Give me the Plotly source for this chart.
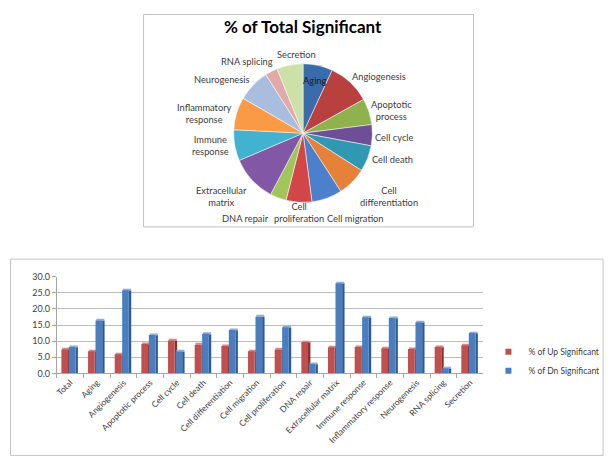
import plotly.graph_objects as go

# pie: share of all significant genes per category
pie_labels = ["Aging", "Angiogenesis", "Apoptotic process", "Cell cycle", "Cell death",
              "Cell differentiation", "Cell migration", "Cell proliferation", "DNA repair",
              "Extracellular matrix", "Immune response", "Inflammatory response",
              "Neurogenesis", "RNA splicing", "Secretion"]
pie_text = ["Aging", "Angiogenesis", "Apoptotic<br>process", "Cell cycle", "Cell death",
            "Cell<br>differentiation", "Cell migration", "Cell<br>proliferation", "DNA repair",
            "Extracellular<br>matrix", "Immune<br>response", "Inflammatory<br>response",
            "Neurogenesis", "RNA splicing", "Secretion"]
pie_values = [6.9, 10.0, 6.1, 4.9, 6.1, 6.8, 7.1, 6.0, 3.8, 10.8, 7.2, 7.6, 7.6, 2.9, 6.1]
pie_colors = ["#3A6BAA", "#B8403E", "#8FB24C", "#6E4F97", "#3198B3", "#E5823A",
              "#4C7FCC", "#D34648", "#A0C65A", "#8257A6", "#43B1D0", "#FB9A45",
              "#A9BEDF", "#E2A9A9", "#CDE0A8"]

# bars: up / down significant per category
categories = ["Total"] + pie_labels
up_sig = [7.5, 6.9, 5.9, 9.1, 10.2, 8.9, 8.5, 6.9, 7.4, 9.7, 8.1, 8.2, 7.8, 7.6, 8.2, 8.7]
dn_sig = [8.2, 16.4, 25.8, 11.9, 6.8, 12.3, 13.5, 17.6, 14.3, 2.9, 28.0, 17.4, 17.2, 15.9, 1.6, 12.5]

W, H = 615, 470
font = "Lato"
OFF = 8  # page body margin the figure sits in

UP_RED = "#C0504D"
DN_BLUE = "#4A7EBF"


def px(x):
    return (x - OFF) / W


def py(y):
    return 1 - (y - OFF) / H


# where the pie labels sit (page pixels), in pie_labels order
label_xy = [(314, 76), (378, 72), (391, 107), (394, 134), (392, 157), (388, 195),
            (355, 217), (298, 211), (244, 217), (220, 195), (209, 143), (203, 110),
            (221, 75), (246, 57), (295, 49)]

fig = go.Figure()

fig.add_trace(go.Pie(
    labels=pie_labels, values=pie_values, textinfo="none",
    sort=False, direction="clockwise", rotation=0,
    marker=dict(colors=pie_colors, line=dict(color="white", width=0.5)),
    domain=dict(x=[px(231), px(373)], y=[py(201), py(59)]),
    showlegend=False, hoverinfo="label+value",
))

n = len(categories)
# 3D-ish columns: side face, top face, front face
fig.add_trace(go.Bar(x=categories, y=up_sig, offset=-0.08, width=0.09,
                     marker=dict(color="#8C2F2C", line_width=0), showlegend=False, hoverinfo="skip"))
fig.add_trace(go.Bar(x=categories, y=[0.45] * n, base=up_sig, offset=-0.30, width=0.30,
                     marker=dict(color="#D98885", line_width=0), showlegend=False, hoverinfo="skip"))
fig.add_trace(go.Bar(x=categories, y=up_sig, offset=-0.33, width=0.25, name="% of Up Significant",
                     marker=dict(color=UP_RED, line_width=0), showlegend=False))
fig.add_trace(go.Bar(x=categories, y=dn_sig, offset=0.20, width=0.09,
                     marker=dict(color="#2E5B90", line_width=0), showlegend=False, hoverinfo="skip"))
fig.add_trace(go.Bar(x=categories, y=[0.45] * n, base=dn_sig, offset=-0.02, width=0.30,
                     marker=dict(color="#8DAEDA", line_width=0), showlegend=False, hoverinfo="skip"))
fig.add_trace(go.Bar(x=categories, y=dn_sig, offset=-0.05, width=0.25, name="% of Dn Significant",
                     marker=dict(color=DN_BLUE, line_width=0), showlegend=False))

# legend entries with small square keys, as in the original
for name, col in [("% of Up Significant", UP_RED), ("% of Dn Significant", DN_BLUE)]:
    fig.add_trace(go.Scatter(x=[None], y=[None], mode="markers", name=name,
                             marker=dict(symbol="square", size=6, color=col)))

annotations = [
    dict(text="<b>% of Total Significant</b>", x=px(302), y=py(21),
         xref="paper", yref="paper", showarrow=False, yanchor="middle",
         font=dict(family=font, size=17, color="#000000")),
]
for i, (t, (lx, ly)) in enumerate(zip(pie_text, label_xy)):
    annotations.append(dict(
        text=t, x=px(lx), y=py(ly), xref="paper", yref="paper", showarrow=False,
        xanchor="center", yanchor="middle",
        font=dict(family=font, size=9.3, color="#1A1A1A" if i == 0 else "#404040")))

fig.update_layout(
    width=W, height=H, margin=dict(l=0, r=0, t=0, b=0),
    paper_bgcolor="white", plot_bgcolor="white",
    barmode="overlay",
    font=dict(family=font, size=9, color="#404040"),
    xaxis=dict(domain=[px(55), px(483)], tickangle=-45, tickfont=dict(size=8.5),
               showline=True, linecolor="#A6A6A6", ticks="outside", ticklen=4,
               tickcolor="#A6A6A6", tickson="boundaries", showgrid=False),
    yaxis=dict(domain=[py(376), py(277)], range=[0, 30], dtick=5, tickformat=".1f",
               showline=True, linecolor="#A6A6A6", ticks="outside", ticklen=4,
               tickcolor="#A6A6A6", gridcolor="#BDBDBD", zeroline=False,
               tickfont=dict(size=9)),
    legend=dict(x=px(488), y=py(339), xanchor="left", yanchor="top",
                font=dict(size=8.5, color="#404040"), bgcolor="rgba(0,0,0,0)",
                tracegroupgap=0, itemwidth=30),
    shapes=[
        dict(type="rect", xref="paper", yref="paper", x0=px(142), x1=px(473),
             y0=py(226), y1=1 - 0.5 / H, line=dict(color="#C4C4C4", width=1)),
        dict(type="rect", xref="paper", yref="paper", x0=0.5 / W, x1=px(603),
             y0=py(460), y1=py(259), line=dict(color="#C4C4C4", width=1)),
    ],
    annotations=annotations,
)

fig.write_html("out.html")
